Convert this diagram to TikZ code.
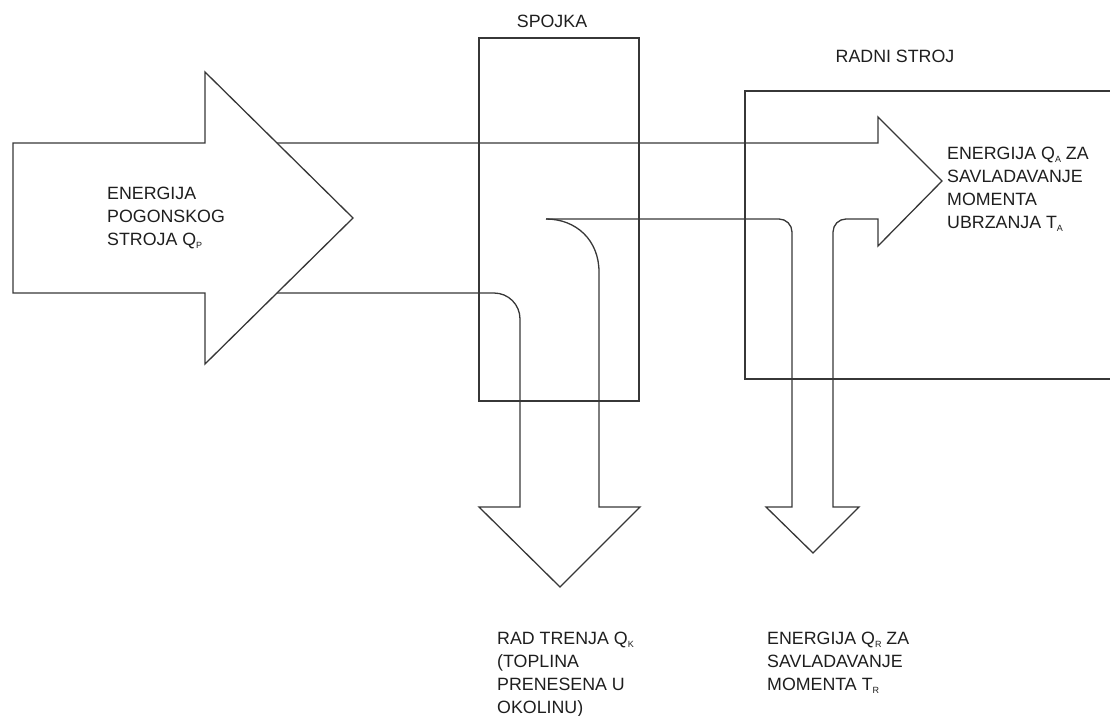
\documentclass[tikz,border=0pt]{standalone}
\usepackage{fontspec}
\setmainfont{Liberation Sans}
\usetikzlibrary{calc}
\newcommand{\sbs}[1]{\raisebox{-0.35ex}{\fontsize{9}{9}\selectfont #1}}
\definecolor{ln}{RGB}{55,55,55}
\definecolor{tx}{RGB}{30,30,30}
\tikzset{
  flow/.style={draw=ln, line width=1.3pt, line join=miter},
  lbl/.style={text=tx, inner sep=0pt, align=left, font=\fontsize{17.8}{22.8}\selectfont},
}
\begin{document}
\begin{tikzpicture}[x=1pt,y=-1pt]
\useasboundingbox (0,0) rectangle (1110,715);
% boxes
\draw[flow] (479,38) rectangle (639,401);
\draw[flow] (1112,91) -- (745,91) -- (745,379) -- (1112,379);
% big input arrow
\coordinate (ht) at (205,72);
\coordinate (tip) at (353,218);
\coordinate (hb) at (205,364);
\draw[flow] (13,143) -- (205,143) -- (ht) -- (tip) -- (hb) -- (205,293) -- (13,293) -- cycle;
\coordinate (up) at ($(ht)!{71/146}!(tip)$);
\coordinate (lo) at ($(tip)!{75/146}!(hb)$);
% upper flow to working machine and right down arrow
\draw[flow] (up) -- (878,143) -- (878,117) -- (942,181) -- (878,246) -- (878,219) -- (846,219)
  .. controls (838.8,219) and (833,224.8) .. (833,232) -- (833,507) -- (859,507) -- (813,553)
  -- (766,507) -- (792,507) -- (792,232) .. controls (792,224.8) and (786.2,219) .. (779,219)
  -- (546,219);
% lower flow to friction arrow
\draw[flow] (546,219) .. controls (576,219) and (599,240) .. (599,272) -- (599,507) -- (640,507)
  -- (560,587) -- (479,507) -- (520,507) -- (520,319) .. controls (520,304.6) and (508.4,293) .. (494,293)
  -- (lo);
% labels
\node[lbl, anchor=base] (spojka) at (552,27.5) {SPOJKA};
\node[lbl, anchor=base] (radni) at (895,62) {RADNI STROJ};
\node[lbl, anchor=north west] (qp) at (107,187) {ENERGIJA\\POGONSKOG\\STROJA Q\sbs{P}};
\node[lbl, anchor=north west] (qa) at (947,147) {ENERGIJA Q\sbs{A} ZA\\SAVLADAVANJE\\MOMENTA\\UBRZANJA T\sbs{A}};
\node[lbl, anchor=north west] (qk) at (497,632) {RAD TRENJA Q\sbs{K}\\(TOPLINA\\PRENESENA U\\OKOLINU)};
\node[lbl, anchor=north west] (qr) at (767,632) {ENERGIJA Q\sbs{R} ZA\\SAVLADAVANJE\\MOMENTA T\sbs{R}};
\end{tikzpicture}
\end{document}
